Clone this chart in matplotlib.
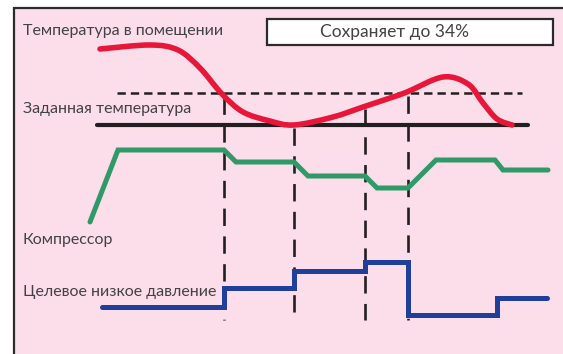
import matplotlib
matplotlib.use("Agg")
import matplotlib.pyplot as plt
from matplotlib.patches import Rectangle, PathPatch
from matplotlib.path import Path

plt.rcParams['font.family'] = ['Lato', 'DejaVu Sans']
plt.rcParams['lines.scale_dashes'] = False

# ---- data (schematic units: x = time, y = level, y axis pointing down) ----
room_temp_x = [100, 150, 178, 200, 222, 243, 270, 294, 333, 363, 390, 407,
               443, 468, 483, 497, 512]
room_temp_y = [49, 45, 50, 68, 94, 112, 121, 125, 117, 107, 98, 92,
               77, 84, 103, 119, 125]

setpoint_x = [97, 528]
setpoint_y = [125, 125]

upper_band_x = [117, 522]
upper_band_y = [93, 93]

event_x = [224, 294, 365, 408]
event_top = [97, 128, 109, 96]
event_bottom = 320

compressor_x = [90, 118, 224, 236, 294, 308, 365, 377, 408, 436, 495, 503, 548]
compressor_y = [222, 150, 150, 162, 162, 176, 176, 188, 188, 160, 160, 170, 170]

pressure_x = [102, 224, 294, 365, 408, 497, 547]
pressure_y = [307, 288, 271, 262, 315, 298, 298]

labels = ["Температура в помещении", "Заданная температура",
          "Компрессор", "Целевое низкое давление"]
label_baselines = [34.5, 113, 244, 296]
saving_text = "Сохраняет до 34%"

# ---- colours ----
PINK = "#fcdeea"
FRAME = "#2b2b2b"
RED = "#e8173a"
GREEN = "#2f9a68"
BLUE = "#1f3f9a"
BLACK = "#231f20"
TEXT = "#424242"

fig = plt.figure(figsize=(5.63, 3.54), dpi=100)
ax = fig.add_axes([0, 0, 1, 1])
ax.set_xlim(0, 563)
ax.set_ylim(354, 0)
ax.axis("off")

# frame
ax.add_patch(Rectangle((13.5, 7.5), 700, 500, facecolor=PINK,
                       edgecolor=FRAME, linewidth=1.6, zorder=0))

# dashed upper band
ax.plot(upper_band_x, upper_band_y, color=BLACK, lw=1.8,
        linestyle=(0, (6, 3.6)), zorder=2)

# vertical event lines
for x, top in zip(event_x, event_top):
    ax.plot([x, x], [top, event_bottom], color=BLACK, lw=1.9,
            linestyle=(0, (12.5, 7.5)), zorder=1)

# setpoint line
ax.plot(setpoint_x, setpoint_y, color=BLACK, lw=3.0,
        solid_capstyle="round", zorder=3)


# room temperature: smooth curve through the read points (cubic Bezier path)
def smooth_path(xs, ys):
    pts = list(zip(xs, ys))
    n = len(pts)
    verts = [pts[0]]
    codes = [Path.MOVETO]
    for i in range(n - 1):
        p0 = pts[i - 1] if i > 0 else pts[i]
        p1 = pts[i]
        p2 = pts[i + 1]
        p3 = pts[i + 2] if i + 2 < n else pts[i + 1]
        c1 = (p1[0] + (p2[0] - p0[0]) / 6, p1[1] + (p2[1] - p0[1]) / 6)
        c2 = (p2[0] - (p3[0] - p1[0]) / 6, p2[1] - (p3[1] - p1[1]) / 6)
        verts += [c1, c2, p2]
        codes += [Path.CURVE4] * 3
    return Path(verts, codes)


red = PathPatch(smooth_path(room_temp_x, room_temp_y), facecolor="none",
                edgecolor=RED, lw=4.0, capstyle="round", joinstyle="round",
                zorder=4)
ax.add_patch(red)

# compressor
ax.plot(compressor_x, compressor_y, color=GREEN, lw=3.6,
        solid_capstyle="round", solid_joinstyle="miter", zorder=4)

# target low pressure
ax.step(pressure_x, pressure_y, where="post", color=BLUE, lw=3.6,
        solid_capstyle="round", solid_joinstyle="miter", zorder=4)

# labels
for txt, yb in zip(labels, label_baselines):
    ax.text(23, yb, txt, fontsize=11.5, color=TEXT, va="baseline", ha="left",
            zorder=5)

# saving box
ax.add_patch(Rectangle((267, 19), 286, 26, facecolor="white",
                       edgecolor=FRAME, linewidth=1.6, zorder=5))
ax.text(395, 37, saving_text, fontsize=12.5, color=TEXT, va="baseline",
        ha="center", zorder=6)

fig.savefig("out.png", dpi=100)
